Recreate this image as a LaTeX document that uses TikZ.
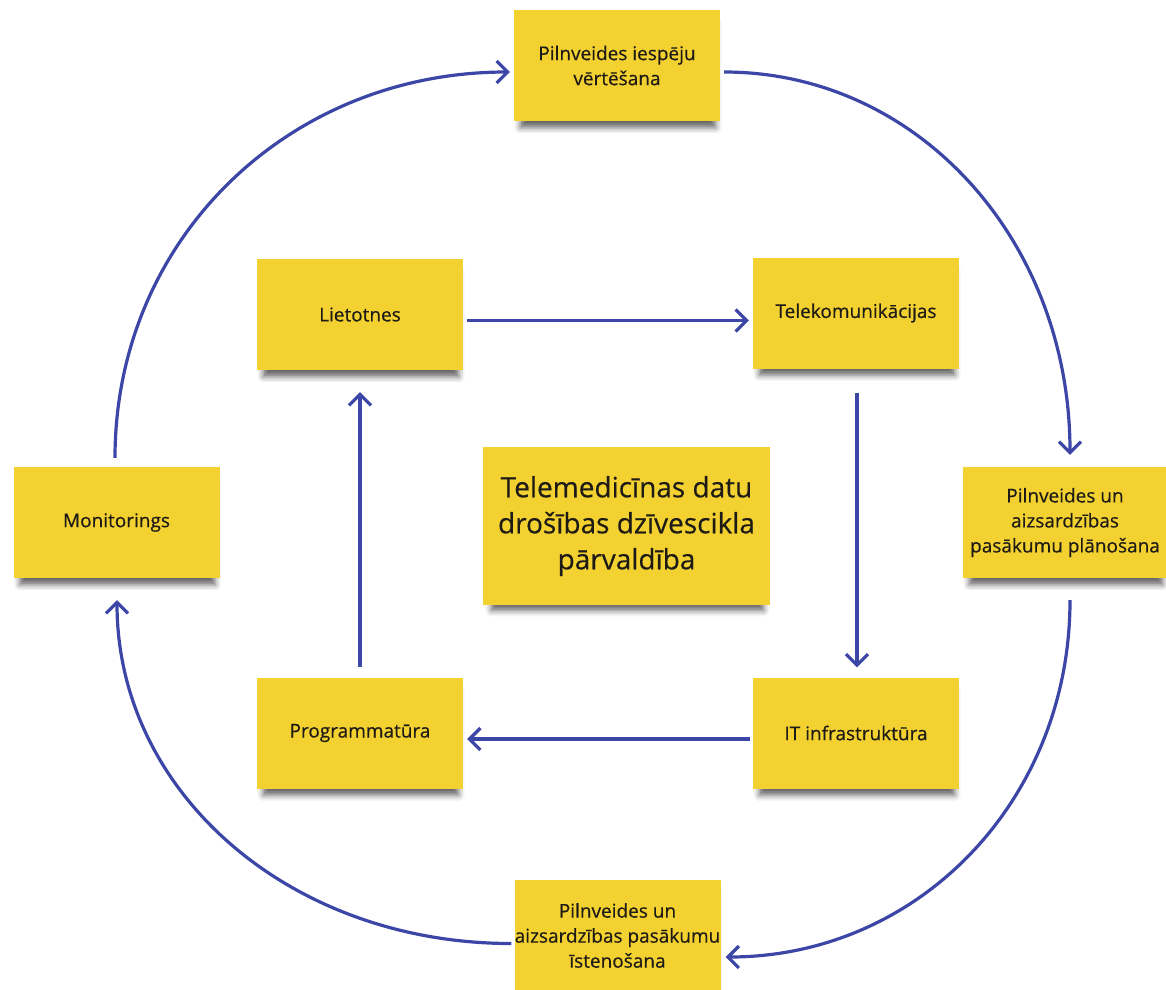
\documentclass[tikz,border=0pt]{standalone}
\usepackage{fontspec}
\setmainfont{Open Sans}[FakeBold=0.4]
\usetikzlibrary{arrows.meta,shadows.blur}
\definecolor{notefill}{RGB}{243,209,48}
\definecolor{flow}{RGB}{60,70,166}
\definecolor{ink}{RGB}{30,27,22}
\begin{document}
\begin{tikzpicture}[x=1pt,y=-1pt,
  note/.style={fill=notefill, minimum width=206pt, minimum height=111pt,
    inner sep=0pt, align=center, text=ink,
    font=\fontsize{19}{25}\selectfont,
    blur shadow={shadow xshift=1pt, shadow yshift=-10pt, shadow scale=0.95,
      shadow blur radius=6pt, shadow opacity=60}},
  bignote/.style={note, minimum width=287pt, minimum height=158pt,
    font=\fontsize{28}{36}\selectfont},
  flowline/.style={draw=flow, line width=3.2pt,
    -{Straight Barb[length=11pt,width=22pt]}}
]
\useasboundingbox (0,0) rectangle (1166,989);

% outer cycle
\node[note] (top)  at (617,65.5)   {Pilnveides iespēju\\vērtēšana};
\node[note, minimum width=204pt] (plan) at (1065,522.5) {Pilnveides un\\aizsardzības\\pasākumu plānošana};
\node[note] (ist)  at (617.5,935.5) {Pilnveides un\\aizsardzības pasākumu\\īstenošana};
\node[note] (mon)  at (116.5,522.5) {Monitorings};

% inner cycle
\node[note] (lie)  at (360,314.5) {Lietotnes};
\node[note] (tel)  at (856,313)   {Telekomunikācijas};
\node[note] (it)   at (856,733)   {IT infrastruktūra};
\node[note] (prog) at (360,733)   {Programmatūra};

% centre
\node[bignote] (core) at (626.5,526) {Telemedicīnas datu\\drošības dzīvescikla\\pārvaldība};

% inner arrows
\draw[flowline] ([xshift=4pt,yshift=-6pt]lie.east) -- ([xshift=-4pt,yshift=-7.5pt]tel.west);
\draw[flowline] ([xshift=1pt,yshift=-24pt]tel.south) -- ([xshift=1pt,yshift=10pt]it.north);
\draw[flowline] ([xshift=-3pt,yshift=-6pt]it.west) -- ([xshift=4pt,yshift=-6pt]prog.east);
\draw[flowline] ([yshift=10pt]prog.north) -- ([yshift=-22pt]lie.south);

% outer arrows
\draw[flowline] ([xshift=-1.5pt,yshift=9pt]mon.north)
  .. controls +(0,-218) and +(-222,0) .. ([xshift=-4pt,yshift=-6.5pt]top.west);
\draw[flowline] ([xshift=4pt,yshift=-6.5pt]top.east)
  .. controls +(194,0) and +(0,-214) .. ([xshift=5pt,yshift=12pt]plan.north);
\draw[flowline] ([xshift=5pt,yshift=-22pt]plan.south)
  .. controls +(0,200) and +(193,0) .. ([xshift=5pt,yshift=-21.5pt]ist.east);
\draw[flowline] ([xshift=-3pt,yshift=-8pt]ist.west)
  .. controls +(-222,0) and +(0,192) .. ([xshift=0.5pt,yshift=-22pt]mon.south);
\end{tikzpicture}
\end{document}
